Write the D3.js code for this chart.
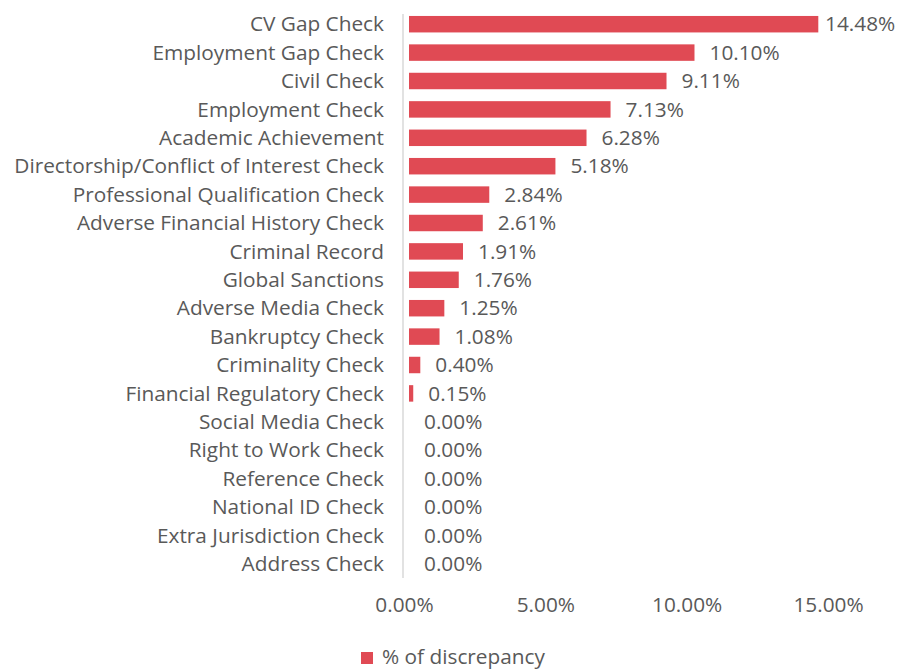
<!DOCTYPE html>
<html><head><meta charset="utf-8">
<script src="https://cdn.jsdelivr.net/npm/d3@7"></script>
<style>body{margin:0;background:#fff;} text{font-family:"Open Sans", sans-serif;}</style>
</head><body>
<svg id="c" width="899" height="671"></svg>
<script>
const categories = ["CV Gap Check","Employment Gap Check","Civil Check","Employment Check","Academic Achievement","Directorship/Conflict of Interest Check","Professional Qualification Check","Adverse Financial History Check","Criminal Record","Global Sanctions","Adverse Media Check","Bankruptcy Check","Criminality Check","Financial Regulatory Check","Social Media Check","Right to Work Check","Reference Check","National ID Check","Extra Jurisdiction Check","Address Check"];
const values = [14.48,10.10,9.11,7.13,6.28,5.18,2.84,2.61,1.91,1.76,1.25,1.08,0.40,0.15,0.00,0.00,0.00,0.00,0.00,0.00];
const xTicks = [0,5,10,15];
const seriesName = "% of discrepancy";

const W = 899, H = 671;
const svg = d3.select("#c");
const color = "#e04a54", textColor = "#595959";
const fs = 20.8;
const ff = "'Open Sans', sans-serif";

const x = d3.scaleLinear().domain([0,15]).range([409,833]);
const y = d3.scaleBand().domain(categories).range([10,578]).paddingInner(0.42).paddingOuter(0.21);

// axis line
svg.append("line").attr("x1",403).attr("x2",403).attr("y1",14).attr("y2",578)
  .attr("stroke","#d9d9d9").attr("stroke-width",1.5);

// category labels
const yAxis = d3.axisLeft(y).tickSize(0).tickPadding(0);
const gy = svg.append("g").attr("transform","translate(384,0)").call(yAxis);
gy.select(".domain").remove();
gy.selectAll("text").attr("fill",textColor).style("font-size",fs+"px").style("font-family",ff).attr("dy","0.35em");

// bars
svg.selectAll("rect.bar").data(values).enter().append("rect").attr("class","bar")
  .attr("x",x(0)).attr("y",(d,i)=>y(categories[i]))
  .attr("width",d=>Math.max(0,x(d)-x(0))).attr("height",y.bandwidth())
  .attr("fill",color);

// data labels
svg.selectAll("text.lbl").data(values).enter().append("text").attr("class","lbl")
  .attr("x",d=>Math.min(x(d)+15, W-74)).attr("y",(d,i)=>y(categories[i])+y.bandwidth()/2)
  .attr("dy","0.35em").attr("fill",textColor).style("font-size",fs+"px")
  .text(d=>d.toFixed(2)+"%");

// x axis
const xAxis = d3.axisBottom(x).tickValues(xTicks).tickSize(0).tickPadding(0).tickFormat(d=>d.toFixed(2)+"%");
const gx = svg.append("g").attr("transform","translate(-5,605)").call(xAxis);
gx.select(".domain").remove();
gx.selectAll("text").attr("fill",textColor).style("font-size",fs+"px").style("font-family",ff).attr("dy","0.35em");

// legend
svg.append("rect").attr("x",361).attr("y",652).attr("width",12).attr("height",12).attr("fill",color);
svg.append("text").attr("x",382).attr("y",657).attr("dy","0.35em").attr("fill",textColor).style("font-size",fs+"px").text(seriesName);
</script>
</body></html>
